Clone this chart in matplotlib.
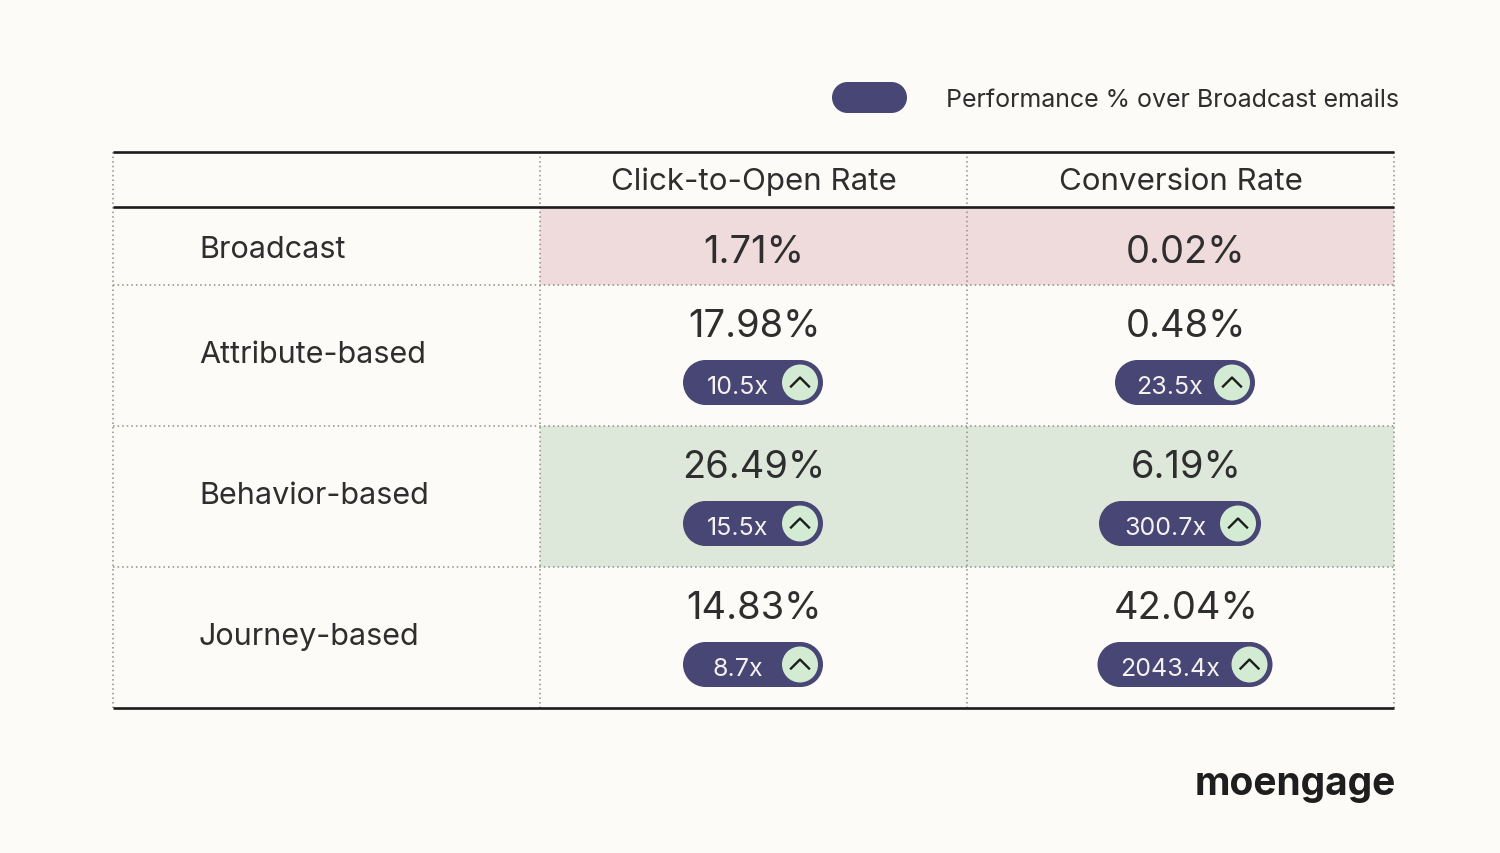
import matplotlib
matplotlib.use("Agg")
import matplotlib.pyplot as plt
from matplotlib.patches import Rectangle, Circle

columns = ["Click-to-Open Rate", "Conversion Rate"]
rows = ["Broadcast", "Attribute-based", "Behavior-based", "Journey-based"]
ctor = ["1.71%", "17.98%", "26.49%", "14.83%"]
conv = ["0.02%", "0.48%", "6.19%", "42.04%"]
ctor_lift = [None, "10.5x", "15.5x", "8.7x"]
conv_lift = [None, "23.5x", "300.7x", "2043.4x"]
legend_label = "Performance % over Broadcast emails"
logo = "moengage"

BG = "#FCFBF7"; INK = "#2E2E2E"; PILL = "#484674"; MINT = "#D3EBD3"
PINK = "#EFDADC"; GREEN = "#DDE8DB"; DOT = "#8F8F88"
FONT = ["Inter", "DejaVu Sans"]

col_x = [113, 540, 967, 1394]
row_y = [208, 286, 427, 568, 709]
head_top = 153
col_cx = [754, 1186]
pill_w = {"10.5x": 140, "15.5x": 140, "8.7x": 140, "23.5x": 140, "300.7x": 162, "2043.4x": 175}
pill_dx = {"300.7x": -5}

fig = plt.figure(figsize=(15, 8.54), dpi=100, facecolor=BG)
ax = fig.add_axes([0, 0, 1, 1])
ax.set_xlim(0, 1500); ax.set_ylim(854, 0); ax.axis("off")

ax.add_patch(Rectangle((col_x[1], row_y[0]), col_x[3] - col_x[1], row_y[1] - row_y[0], fc=PINK, ec="none"))
ax.add_patch(Rectangle((col_x[1], row_y[2]), col_x[3] - col_x[1], row_y[3] - row_y[2], fc=GREEN, ec="none"))

for x in col_x:
    ax.plot([x, x], [head_top, row_y[-1]], color=DOT, lw=1.1, ls=(0, (1, 2)), zorder=2)
for y in row_y[1:-1]:
    ax.plot([col_x[0], col_x[-1]], [y, y], color=DOT, lw=1.1, ls=(0, (1, 2)), zorder=2)
for y in [head_top, row_y[0], row_y[-1]]:
    ax.plot([col_x[0], col_x[-1]], [y, y], color="#1C1C1C", lw=1.9, zorder=3, solid_capstyle="butt")

for c, t in zip([753.5, 1180.5], columns):
    ax.text(c, 179, t, ha="center", va="center_baseline", fontsize=22.5, color=INK, family=FONT)


def capsule(x0, x1, cy, h, z):
    r = h / 2
    ax.add_patch(Rectangle((x0 + r, cy - r), x1 - x0 - h, h, fc=PILL, ec="none", zorder=z))
    ax.add_patch(Circle((x0 + r, cy), r, fc=PILL, ec="none", zorder=z))
    ax.add_patch(Circle((x1 - r, cy), r, fc=PILL, ec="none", zorder=z))


def pill(cx, cy, label):
    w = pill_w[label]
    cx += pill_dx.get(label, 0)
    capsule(cx - w / 2, cx + w / 2, cy, 45, 4)
    ccx = cx + w / 2 - 23
    ax.add_patch(Circle((ccx, cy), 18, fc=MINT, ec="none", zorder=5))
    ax.plot([ccx - 9, ccx, ccx + 9], [cy + 4, cy - 5, cy + 4], color="#1C1C1C", lw=1.7, zorder=6)
    ax.text((cx - w / 2 + ccx - 18) / 2 + 5.5, cy + 2, label, ha="center", va="center_baseline",
            fontsize=18, color="#F4F2EE", family=FONT, zorder=6)


for i, name in enumerate(rows):
    top, bot = row_y[i], row_y[i + 1]
    mid = (top + bot) / 2
    ax.text(199, mid + (0 if i == 0 else -4), name, ha="left", va="center_baseline",
            fontsize=22, color=INK, family=FONT)
    for cx, vals, lifts in zip(col_cx, [ctor, conv], [ctor_lift, conv_lift]):
        if lifts[i] is None:
            ax.text(cx, mid + 2, vals[i], ha="center", va="center_baseline",
                    fontsize=27.4, color=INK, family=FONT)
        else:
            ax.text(cx, top + 37, vals[i], ha="center", va="center_baseline", fontsize=27.4, color=INK, family=FONT)
            pill(cx - 1, top + 97.5, lifts[i])

capsule(832, 907, 98.5, 31, 2)
ax.text(946, 98, legend_label, ha="left", va="center_baseline", fontsize=18, color=INK, family=FONT)
ax.text(1396, 781, logo, ha="right", va="center_baseline", fontsize=28, fontweight="bold", color="#1E1E1E", family=FONT)

fig.savefig("out.png", dpi=100, facecolor=BG)
